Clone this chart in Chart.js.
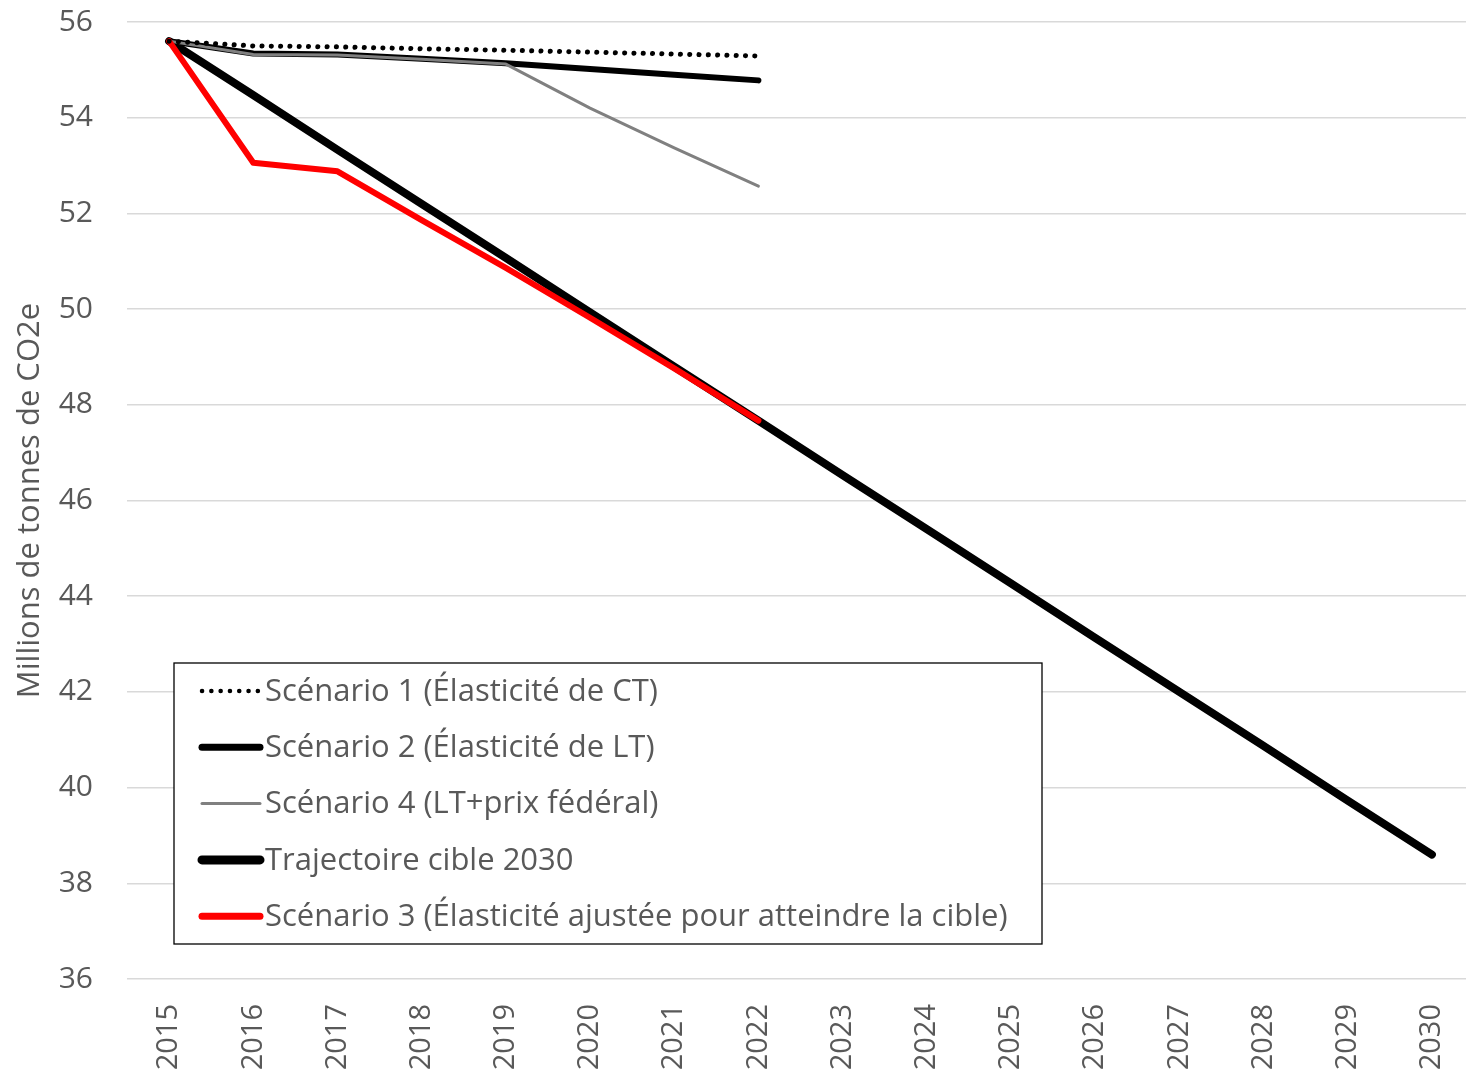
<!DOCTYPE html>
<html>
<head>
<meta charset="utf-8">
<script src="https://cdn.jsdelivr.net/npm/chart.js@4"></script>
<style>
  html, body { margin:0; padding:0; background:#fff; }
  #wrap { width:1466px; height:1075px; }
</style>
</head>
<body>
<div id="wrap"><canvas id="chart" width="1466" height="1075"></canvas></div>
<script>
const years = ['2015','2016','2017','2018','2019','2020','2021','2022','2023','2024','2025','2026','2027','2028','2029','2030'];
const scenario1 = [55.60, 55.50, 55.48, 55.44, 55.41, 55.37, 55.33, 55.29];
const scenario2 = [55.60, 55.34, 55.32, 55.23, 55.14, 55.02, 54.90, 54.78];
const scenario4 = [55.60, 55.32, 55.31, 55.22, 55.12, 54.20, 53.37, 52.57];
const cible2030 = [55.60, 54.47, 53.33, 52.20, 51.07, 49.93, 48.80, 47.67, 46.53, 45.40, 44.27, 43.13, 42.00, 40.87, 39.73, 38.60];
const scenario3 = [55.60, 53.06, 52.88, 51.86, 50.86, 49.82, 48.76, 47.67];
const yTicks = [36, 38, 40, 42, 44, 46, 48, 50, 52, 54, 56];

const FONT = '"Open Sans", "Noto Sans", sans-serif';
const GREY_TXT = '#595959';

// legend drawn inside the plot, like the spreadsheet original
const boxLegend = {
  id: 'boxLegend',
  afterLayout(chart){
    // the x categories run a little past the right edge in the original
    const s = chart.scales.x;
    s.right += 8; s.width += 8;
    s.configure();
  },
  afterDraw(chart){
    const ctx = chart.ctx, ca = chart.chartArea;
    const x0 = ca.left + 47, y0 = ca.bottom - 316, w = 868, h = 281;
    ctx.save();
    ctx.fillStyle = '#fff';
    ctx.fillRect(x0, y0, w, h);
    ctx.strokeStyle = '#000';
    ctx.lineWidth = 1.3;
    ctx.strokeRect(x0, y0, w, h);
    chart.data.datasets.forEach((ds, i) => {
      const cy = y0 + 28 + i * 56.3;
      ctx.beginPath();
      ctx.strokeStyle = ds.borderColor;
      ctx.lineWidth = ds.legendWidth;
      ctx.lineCap = 'round';
      ctx.setLineDash(ds.borderDash || []);
      ctx.moveTo(x0 + 28, cy);
      ctx.lineTo(x0 + 86, cy);
      ctx.stroke();
      ctx.setLineDash([]);
      ctx.fillStyle = GREY_TXT;
      ctx.font = '31px ' + FONT;
      ctx.textBaseline = 'middle';
      ctx.fillText(ds.label, x0 + 91, cy + 1);
    });
    ctx.restore();
  }
};

new Chart(document.getElementById('chart'), {
  type: 'line',
  data: {
    labels: years,
    datasets: [
      { label: 'Scénario 1 (Élasticité de CT)', data: scenario1, borderColor: '#000', borderWidth: 5, borderDash: [0.1, 9.2], borderCapStyle: 'round', legendWidth: 4.5, order: 0 },
      { label: 'Scénario 2 (Élasticité de LT)', data: scenario2, borderColor: '#000', borderWidth: 6, borderCapStyle: 'round', legendWidth: 7, order: 3 },
      { label: 'Scénario 4 (LT+prix fédéral)', data: scenario4, borderColor: '#808080', borderWidth: 3, borderCapStyle: 'round', legendWidth: 3, order: 2 },
      { label: 'Trajectoire cible 2030', data: cible2030, borderColor: '#000', borderWidth: 8, borderCapStyle: 'round', legendWidth: 9, order: 4 },
      { label: 'Scénario 3 (Élasticité ajustée pour atteindre la cible)', data: scenario3, borderColor: '#ff0000', borderWidth: 6, borderCapStyle: 'round', legendWidth: 7, order: 1 }
    ]
  },
  options: {
    responsive: false,
    animation: false,
    layout: { padding: { top: 22, right: 0, left: 0, bottom: 0 } },
    elements: { point: { radius: 0, hoverRadius: 0 }, line: { tension: 0, borderJoinStyle: 'round' } },
    plugins: { legend: { display: false }, tooltip: { enabled: false } },
    scales: {
      x: {
        offset: true,
        grid: { display: false, drawTicks: false },
        border: { display: false },
        ticks: { color: GREY_TXT, font: { family: FONT, size: 29 }, minRotation: 90, maxRotation: 90, padding: 25 },
        afterFit(scale){ scale.height = 96; scale.paddingLeft = 0; scale.paddingRight = 0; }
      },
      y: {
        min: 36, max: 56,
        afterBuildTicks(scale){ scale.ticks = yTicks.map(v => ({ value: v })); },
        grid: { color: '#d9d9d9', lineWidth: 1.5, drawTicks: false },
        border: { display: false },
        ticks: { color: GREY_TXT, font: { family: FONT, size: 30 }, padding: 34 },
        title: { display: true, text: 'Millions de tonnes de CO2e', color: GREY_TXT, font: { family: FONT, size: 31 }, padding: { top: 12, bottom: 0 } },
        afterFit(scale){ scale.width = 127; scale.paddingTop = 0; scale.paddingBottom = 0; }
      }
    }
  },
  plugins: [boxLegend]
});
</script>
</body>
</html>
